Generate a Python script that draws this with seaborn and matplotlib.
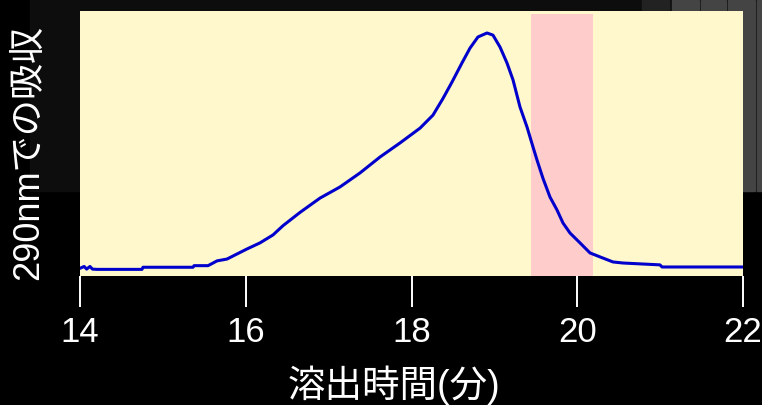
import matplotlib
matplotlib.use("Agg")
import matplotlib.pyplot as plt
from matplotlib.patches import Rectangle
import seaborn as sns
import pandas as pd

# chromatogram trace (time in min, absorbance in arbitrary units)
elution_time = [14.00, 14.05, 14.08, 14.12, 14.15, 14.205, 14.748, 14.76, 15.364, 15.376,
                15.545, 15.653, 15.774, 15.894, 16.015, 16.172, 16.329, 16.45, 16.655, 16.811,
                16.896, 17.137, 17.379, 17.620, 17.861, 18.103, 18.259, 18.380, 18.489, 18.609,
                18.706, 18.802, 18.911, 18.983, 19.068, 19.152, 19.225, 19.309, 19.394, 19.466,
                19.514, 19.587, 19.671, 19.756, 19.828, 19.913, 20.033, 20.154, 20.275, 20.431,
                20.552, 20.998, 21.023, 22.00]
absorbance = [2.9, 3.6, 2.6, 3.6, 2.6, 2.5, 2.5, 3.3, 3.3, 3.9,
              3.9, 5.7, 6.4, 8.3, 10.2, 12.5, 15.5, 19.0, 24.0, 27.5,
              29.4, 33.6, 38.9, 44.9, 50.2, 55.8, 60.7, 67.0, 73.2, 80.4,
              86.0, 90.2, 91.7, 90.9, 86.4, 80.4, 74.0, 63.8, 56.2, 48.7,
              43.8, 36.8, 29.8, 24.9, 20.0, 16.2, 12.5, 8.7, 7.2, 5.3,
              4.9, 4.2, 3.4, 3.4]
fraction_window = (19.44, 20.19)
x_ticks = [14, 16, 18, 20, 22]

sns.set_style("white")
plt.rcParams['font.family'] = ['Liberation Sans', 'Noto Sans CJK JP', 'DejaVu Sans']

df = pd.DataFrame({'time': elution_time, 'abs': absorbance})

W, H = 762, 405
fig = plt.figure(figsize=(W / 100, H / 100), dpi=100, facecolor='black')

# dark screenshot clutter behind the chart
def px_rect(x0, y0, x1, y1, color):
    fig.patches.append(Rectangle((x0 / W, 1 - y1 / H), (x1 - x0) / W, (y1 - y0) / H,
                                 transform=fig.transFigure, color=color, zorder=-10))

px_rect(30, 0, 762, 191, '#0d0d0d')
px_rect(642, 0, 669, 191, '#222222')
for a, b in [(672, 699), (701, 726), (728, 755), (757, 762)]:
    px_rect(a, 0, b, 191, '#444444')

ax = fig.add_axes([80 / W, 1 - 276 / H, 663 / W, 265 / H])
ax.set_zorder(5)
ax.set_facecolor('#FFF8CC')
ax.axvspan(*fraction_window, ymin=0, ymax=0.989, color='#FFCCCC', lw=0, zorder=1)
sns.lineplot(data=df, x='time', y='abs', ax=ax, color='#0000CC', linewidth=2.2,
             estimator=None, zorder=3)

ax.set_xlim(14, 22)
ax.set_ylim(0, 100)
ax.set_xticks(x_ticks)
ax.set_xticklabels([str(t) for t in x_ticks])
ax.set_yticks([])
ax.tick_params(axis='x', colors='white', length=22, width=1.4, labelsize=25, pad=7,
               bottom=True)
for s in ax.spines.values():
    s.set_visible(False)
ax.set_xlabel('')
ax.set_ylabel('')

fig.text(394 / W, 1 - 385 / H, '溶出時間(分)', color='white', fontsize=27,
         ha='center', va='center', zorder=6)
fig.text(29 / W, 1 - 152 / H, '290nmでの吸収', color='white', fontsize=26,
         rotation=90, ha='center', va='center', zorder=6)

fig.savefig('out.png', dpi=100, facecolor='black')
